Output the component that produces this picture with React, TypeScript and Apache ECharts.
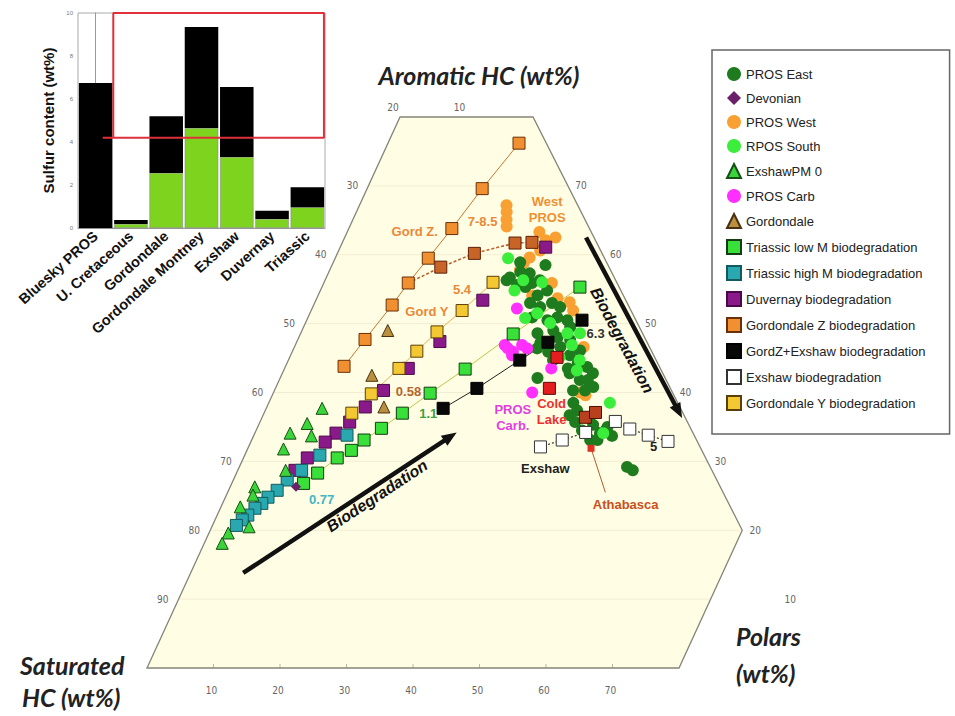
import React, { useEffect, useRef } from "react";
import * as echarts from "echarts";

// ---------------- Inset bar chart (sulfur content) ----------------
const sulfurCategories = ["Bluesky PROS", "U. Cretaceous", "Gordondale", "Gordondale Montney", "Exshaw", "Duvernay", "Triassic"];
const sulfurGreen = [0, 0.19, 2.56, 4.65, 3.3, 0.42, 0.97];
const sulfurBlack = [6.74, 0.18, 2.64, 4.7, 3.26, 0.38, 0.93];
const sulfurTicks = [0, 2, 4, 6, 8, 10];
const highSulfurThreshold = 4.2;

// ---------------- Ternary data: [Polars wt%, Aromatic HC wt%] (Saturated = 100 - both) ----------------
const prosEast = [
  [27.6, 56.7], [28.8, 57.5], [30.3, 57.3], [31.3, 55.9], [30.6, 55.3], [32.3, 56.3], [33.0, 54.1], [34.1, 54.8],
  [32.4, 53.0], [34.2, 52.4], [35.7, 53.0], [37.2, 52.4], [33.7, 50.9], [36.2, 50.5], [37.5, 50.9], [39.2, 50.5],
  [40.1, 49.5], [35.6, 48.6], [36.7, 47.2], [38.9, 48.0], [41.0, 47.6], [43.2, 46.1], [42.0, 45.4], [43.7, 44.3],
  [42.6, 43.5], [45.4, 43.7], [46.7, 42.8], [46.4, 41.8], [45.2, 41.8], [43.2, 42.8], [47.7, 40.8], [46.7, 40.3],
  [44.9, 40.3], [38.7, 42.1], [45.8, 38.5], [46.9, 37.4], [46.1, 36.7], [52.6, 35.0], [51.9, 34.1], [50.3, 35.3],
  [50.9, 33.1], [52.0, 33.1], [58.3, 29.2], [59.4, 28.7], [27.3, 56.3], [29.2, 55.6], [37.8, 49.0], [40.0, 46.6],
  [39.8, 44.7], [47.4, 35.7], [49.0, 34.5], [53.9, 33.7], [28.1, 58.9], [32.1, 58.5], [38.5, 45.9], [36.6, 46.4],
];
const rposSouth = [
  [26.0, 59.5], [29.2, 54.8], [32.8, 56.0], [34.2, 51.5], [32.7, 50.8], [36.8, 50.1], [40.1, 48.6], [41.6, 46.9],
  [42.0, 48.6], [44.1, 43.2], [51.3, 38.5], [29.8, 56.3], [40.6, 45.1], [52.4, 34.1], [43.8, 44.7],
];
const prosWest = [
  [22.1, 67.2], [22.6, 66.2], [23.1, 65.1], [23.6, 64.1], [28.9, 63.3], [31.7, 62.5], [30.4, 62.1], [29.2, 59.6],
  [28.7, 58.8], [32.2, 54.1], [34.3, 55.9], [36.2, 53.7], [38.3, 53.1], [39.4, 51.9], [43.5, 46.6], [46.1, 40.0],
  [47.1, 39.6], [28.6, 57.8], [30.3, 60.6],
];
const prosCarb = [
  [30.8, 52.2], [32.2, 46.4], [33.2, 45.9], [34.1, 46.9], [35.1, 46.4], [33.3, 45.4], [31.5, 46.9], [40.1, 43.5], [38.9, 40.0],
];
const devonian = [[9.9, 26.3]];
const exshawPM0 = [
  [8.4, 37.7], [7.2, 35.5], [5.3, 34.1], [8.7, 33.7], [5.4, 31.8], [7.2, 28.7], [3.7, 26.3], [4.0, 25.1],
  [2.9, 23.4], [5.6, 20.5], [2.9, 19.6], [2.7, 18.1],
];
const gordondale = [[12.9, 49.0], [13.6, 42.5], [17.6, 37.9]];
const triassicLowM = [
  [38.8, 55.3], [32.0, 48.5], [27.2, 43.4], [23.6, 39.9], [20.8, 37.0], [18.7, 34.8], [16.9, 33.1], [15.7, 31.6],
  [14.1, 30.5], [12.2, 28.3], [10.8, 26.8],
];
const triassicHighM = [
  [14.0, 33.8], [11.3, 30.9], [9.6, 28.7], [8.1, 27.3], [7.3, 25.8], [6.4, 24.8], [5.9, 23.9], [5.2, 23.2],
  [4.6, 22.2], [4.1, 21.5], [3.6, 20.7],
];
const duvernay = [
  [30.9, 61.1], [25.1, 53.4], [21.5, 47.4], [18.6, 43.5], [16.4, 40.3], [14.8, 37.9], [13.5, 35.7], [12.2, 34.1],
  [11.2, 32.8], [9.6, 30.5], [8.6, 28.7],
];
const gordZ = [[19.7, 76.2], [17.3, 69.6], [15.5, 63.8], [14.0, 59.5], [12.7, 55.9], [11.8, 52.7], [10.1, 47.7], [8.8, 43.8]];
const gordZBranch = [[12.7, 55.9], [16.5, 58.2], [20.6, 60.2], [26.0, 61.7], [28.5, 61.8]];
const gordZExshaw = [[41.4, 50.5], [37.8, 47.3], [34.8, 44.7], [30.3, 40.6], [26.6, 37.7]];
const exshawBio = [[43.9, 32.1], [46.7, 33.1], [49.7, 34.2], [53.4, 35.8], [56.1, 34.7], [59.3, 33.8], [62.7, 32.9]];
const gordY = [[25.4, 56.0], [22.7, 51.9], [20.4, 48.8], [18.7, 46.0], [17.2, 43.5], [14.8, 39.8], [13.2, 37.0]];
const coldLake = [[40.2, 45.1], [41.2, 40.6]];
const athabasca = [[48.6, 36.4], [49.8, 37.1]];
const athabascaMarker = [[51.6, 31.9]];
const athabascaLeader = [[51.6, 31.9], [56.8, 25.5]];

// ternary ticks
const satLeftTicks = [90, 80, 70, 60, 50, 40, 30];
const satTopTicks = [20, 10];
const aromTicks = [70, 60, 50, 40, 30, 20, 10];
const polTicks = [10, 20, 30, 40, 50, 60, 70];
const aromGrid = [10, 20, 30, 40, 50, 60, 70];
const frameVertices = [[0, 0], [0, 80], [20, 80], [80, 20], [80, 0]];

const annotations = [
  { text: "Gord Z.", pos: [10.1, 63.4], color: "#e8893a" },
  { text: "7-8.5", pos: [19.6, 64.9], color: "#e8893a" },
  { text: "West\nPROS", pos: [28.5, 66.6], color: "#ee9133" },
  { text: "5.4", pos: [21.2, 55.0], color: "#e8893a" },
  { text: "Gord Y", pos: [17.5, 51.7], color: "#e8893a" },
  { text: "0.58", pos: [20.2, 40.2], color: "#b5652e" },
  { text: "1.1", pos: [24.7, 37.0], color: "#3f9f3f" },
  { text: "0.77", pos: [14.6, 24.5], color: "#45b5c5" },
  { text: "6.3", pos: [44.4, 48.5], color: "#333333" },
  { text: "PROS\nCarb.", pos: [37.7, 36.4], color: "#e040e0" },
  { text: "Cold\nLake", pos: [43.1, 37.3], color: "#ec3030" },
  { text: "Exshaw", pos: [46.1, 29.0], color: "#222222" },
  { text: "5", pos: [60.9, 32.1], color: "#222222" },
  { text: "Athabasca", pos: [60.7, 23.7], color: "#c8501e" },
];
const arrows = [
  { from: [7.9, 13.8], to: [30.3, 34.2], label: [22.7, 25.0] },
  { from: [36.3, 62.5], to: [63.2, 36.3], label: [48.8, 47.6] },
];

const K = 0.4756;
const tx = (p: number, a: number): number[] => [p + K * a, a];
const toXY = (arr: number[][]) => arr.map(([p, a]) => tx(p, a));

const SANS = "'Liberation Sans', Arial, sans-serif";
const NARROW = "'Liberation Sans Narrow', 'DejaVu Sans Condensed', 'Liberation Sans', sans-serif";

function scatter(name: string, data: number[][], symbol: string, size: number, color: string, border?: string, z = 5) {
  return {
    type: "scatter", name, xAxisIndex: 0, yAxisIndex: 0, data: toXY(data), symbol, symbolSize: size, z,
    itemStyle: { color, borderColor: border || color, borderWidth: border ? 1 : 0, opacity: 1 },
    emphasis: { disabled: true }, silent: true,
  };
}
function line(data: number[][], color: string, width: number, type: any = "solid") {
  return {
    type: "line", xAxisIndex: 0, yAxisIndex: 0, data: toXY(data), symbol: "none", silent: true, z: 3,
    lineStyle: { color, width, type }, emphasis: { disabled: true },
  };
}

export default function App() {
  const ref = useRef<HTMLDivElement>(null);
  useEffect(() => {
    if (!ref.current) return;
    const chart = echarts.init(ref.current, undefined, { renderer: "svg" });

    const frameSeries = {
      type: "custom", xAxisIndex: 0, yAxisIndex: 0, data: [[0, 0]], silent: true, z: 1,
      renderItem: (_p: any, api: any) => {
        const pts = frameVertices.map(([p, a]) => api.coord(tx(p, a)));
        const children: any[] = [
          { type: "polygon", shape: { points: pts }, style: { fill: "#fffde3", stroke: "none" } },
        ];
        aromGrid.forEach((a) => {
          const l = api.coord(tx(0, a));
          const r = api.coord(tx(a <= 20 ? 80 : 100 - a, a));
          children.push({ type: "line", shape: { x1: l[0], y1: l[1], x2: r[0], y2: r[1] }, style: { stroke: "#f1edd2", lineWidth: 1 } });
        });
        polTicks.forEach((p) => {
          const c = api.coord(tx(p, 0));
          children.push({ type: "line", shape: { x1: c[0], y1: c[1] - 4, x2: c[0], y2: c[1] }, style: { stroke: "#bdb9a0", lineWidth: 1 } });
        });
        children.push({ type: "polygon", shape: { points: pts }, style: { fill: "none", stroke: "#85857a", lineWidth: 1.3 } });
        const txt = (text: string, x: number, y: number) => ({
          type: "text", x, y,
          style: { text, fill: "#666", fontSize: 10, fontFamily: NARROW, align: "center", verticalAlign: "middle", textAlign: "center", textVerticalAlign: "middle" },
        });
        satLeftTicks.forEach((s) => { const c = api.coord(tx(0, 100 - s)); children.push(txt(String(s), c[0] - 16, c[1])); });
        satTopTicks.forEach((s) => { const c = api.coord(tx(20 - s, 80)); children.push(txt(String(s), c[0] - 7, c[1] - 10)); });
        aromTicks.forEach((a) => { const c = api.coord(tx(100 - a, a)); children.push(txt(String(a), c[0] + 13, c[1])); });
        polTicks.forEach((p) => { const c = api.coord(tx(p, 0)); children.push(txt(String(p), c[0] - 2, c[1] + 22)); });
        return { type: "group", children };
      },
    };

    const annotationSeries = {
      type: "custom", xAxisIndex: 0, yAxisIndex: 0, data: [[0, 0]], silent: true, z: 20,
      renderItem: (_p: any, api: any) => {
        const children: any[] = annotations.map((an) => {
          const c = api.coord(tx(an.pos[0], an.pos[1]));
          return {
            type: "text", x: c[0], y: c[1],
            style: { text: an.text, fill: an.color, fontSize: 13, fontWeight: "bold", fontFamily: SANS, lineHeight: 16, align: "center", verticalAlign: "middle", textAlign: "center", textVerticalAlign: "middle" },
          };
        });
        arrows.forEach((ar) => {
          const c1 = api.coord(tx(ar.from[0], ar.from[1]));
          const c2 = api.coord(tx(ar.to[0], ar.to[1]));
          const ang = Math.atan2(c2[1] - c1[1], c2[0] - c1[0]);
          const ux = Math.cos(ang), uy = Math.sin(ang);
          const hl = 15, hw = 6;
          const bx = c2[0] - ux * hl, by = c2[1] - uy * hl;
          children.push({ type: "line", shape: { x1: c1[0], y1: c1[1], x2: bx + ux * 2, y2: by + uy * 2 }, style: { stroke: "#111", lineWidth: 4.5 } });
          children.push({ type: "polygon", shape: { points: [[c2[0], c2[1]], [bx - uy * hw, by + ux * hw], [bx + uy * hw, by - ux * hw]] }, style: { fill: "#111" } });
          const lc = api.coord(tx(ar.label[0], ar.label[1]));
          children.push({
            type: "text", x: lc[0], y: lc[1], rotation: -ang,
            style: { text: "Biodegradation", fill: "#111", fontSize: 16, fontWeight: "bold", fontStyle: "italic", fontFamily: SANS, align: "center", verticalAlign: "middle", textAlign: "center", textVerticalAlign: "middle" },
          });
        });
        return { type: "group", children };
      },
    };

    const legendNames = [
      ["PROS East", "circle"], ["Devonian", "diamond"], ["PROS West", "circle"], ["RPOS South", "circle"],
      ["ExshawPM 0", "triangle"], ["PROS Carb", "circle"], ["Gordondale", "triangle"],
      ["Triassic low M biodegradation", "rect"], ["Triassic high M biodegradation", "rect"],
      ["Duvernay biodegradation", "rect"], ["Gordondale Z biodegradation", "rect"],
      ["GordZ+Exshaw biodegradation", "rect"], ["Exshaw biodegradation", "rect"], ["Gordondale Y biodegradation", "rect"],
    ];

    const titleStyle = { fill: "#222", fontSize: 25, fontWeight: "bold", fontStyle: "italic", fontFamily: "Lato, 'Open Sans', sans-serif" };

    const option: any = {
      animation: false,
      backgroundColor: "#ffffff",
      grid: [
        { left: 147, top: 117, width: 665, height: 551 },
        { left: 78, top: 13, width: 247, height: 215, show: true, borderColor: "#aaaaaa", borderWidth: 1 },
      ],
      xAxis: [
        { gridIndex: 0, type: "value", min: 0, max: 100, show: false },
        {
          gridIndex: 1, type: "category", data: sulfurCategories,
          axisTick: { show: false }, axisLine: { lineStyle: { color: "#999" } },
          axisLabel: { interval: 0, rotate: 42, fontWeight: "bold", fontSize: 14.5, color: "#111", margin: 6, fontFamily: SANS },
        },
        { gridIndex: 1, type: "value", min: -0.5, max: 6.5, show: false },
      ],
      yAxis: [
        { gridIndex: 0, type: "value", min: 0, max: 80, show: false },
        {
          gridIndex: 1, type: "value", min: sulfurTicks[0], max: sulfurTicks[sulfurTicks.length - 1], interval: 2,
          splitLine: { show: false }, axisLine: { show: true, lineStyle: { color: "#999" } }, axisTick: { show: false },
          axisLabel: { fontSize: 6, color: "#777", margin: 5 },
          name: "Sulfur content (wt%)", nameLocation: "middle", nameGap: 22,
          nameTextStyle: { fontWeight: "bold", fontSize: 15, color: "#111", fontFamily: SANS },
        },
      ],
      legend: {
        orient: "vertical", left: 712, top: 50, padding: [17, 24, 23, 14], itemGap: 10, itemWidth: 14, itemHeight: 14,
        borderColor: "#666", borderWidth: 1.5, backgroundColor: "#fff", selectedMode: false,
        textStyle: { fontSize: 13, color: "#222", fontFamily: SANS },
        data: legendNames.map(([name, icon]) => ({ name, icon })),
      },
      graphic: [
        { type: "text", x: 479, y: 75, style: { ...titleStyle, text: "Aromatic HC (wt%)", align: "center", verticalAlign: "middle", textAlign: "center", textVerticalAlign: "middle" } },
        { type: "text", x: 20, y: 665, style: { ...titleStyle, text: "Saturated", align: "left", verticalAlign: "middle", textAlign: "left", textVerticalAlign: "middle" } },
        { type: "text", x: 22, y: 697, style: { ...titleStyle, text: "HC (wt%)", align: "left", verticalAlign: "middle", textAlign: "left", textVerticalAlign: "middle" } },
        { type: "text", x: 736, y: 636, style: { ...titleStyle, text: "Polars", align: "left", verticalAlign: "middle", textAlign: "left", textVerticalAlign: "middle" } },
        { type: "text", x: 736, y: 673, style: { ...titleStyle, text: "(wt%)", align: "left", verticalAlign: "middle", textAlign: "left", textVerticalAlign: "middle" } },
      ],
      series: [
        frameSeries,
        line(gordZ, "#c8782e", 1),
        line(gordZBranch, "#c0602a", 1.6, [3, 2]),
        line(gordY, "#e0b450", 1),
        line(triassicLowM, "#b8cc44", 1),
        line(gordZExshaw, "#222", 1),
        line(exshawBio, "#333", 1.2, [2, 2]),
        line(athabascaLeader, "#b85a30", 1),
        scatter("PROS West", prosWest, "circle", 12, "#f9a032", undefined, 4),
        scatter("PROS East", prosEast, "circle", 12, "#1e7b1e", undefined, 5),
        scatter("RPOS South", rposSouth, "circle", 12, "#3cee3c", undefined, 5),
        scatter("PROS Carb", prosCarb, "circle", 12, "#ff30ff", undefined, 5),
        scatter("Duvernay biodegradation", duvernay, "rect", 12, "#8a1a8a", "#4a0a4a", 6),
        scatter("Gordondale Y biodegradation", gordY, "rect", 12, "#f4c832", "#5a4008", 6),
        scatter("Gordondale Z biodegradation", gordZ, "rect", 12, "#f09030", "#6a3008", 6),
        scatter("Gord Z branch", gordZBranch.slice(1), "rect", 12, "#c86428", "#5a2008", 6),
        scatter("Triassic low M biodegradation", triassicLowM, "rect", 12, "#3ae03a", "#143c14", 6),
        scatter("Triassic high M biodegradation", triassicHighM, "rect", 12, "#2aa8b0", "#135a5e", 6),
        scatter("GordZ+Exshaw biodegradation", gordZExshaw, "rect", 12, "#080808", "#000000", 6),
        scatter("Exshaw biodegradation", exshawBio, "rect", 12, "#ffffff", "#333333", 6),
        scatter("Cold Lake", coldLake, "rect", 12, "#e41e1e", "#5a0a0a", 7),
        scatter("Athabasca", athabasca, "rect", 12, "#b8401c", "#4a1000", 7),
        scatter("Athabasca marker", athabascaMarker, "rect", 7, "#e03020", undefined, 7),
        scatter("ExshawPM 0", exshawPM0, "triangle", 12, "#3bd43b", "#145014", 7),
        scatter("Gordondale", gordondale, "triangle", 12, "#b89040", "#4a3010", 7),
        scatter("Devonian", devonian, "diamond", 10, "#6b1f6b", undefined, 7),
        annotationSeries,
        {
          type: "bar", name: "green", xAxisIndex: 1, yAxisIndex: 1, stack: "s", data: sulfurGreen, barCategoryGap: "5%",
          itemStyle: { color: "#7ed31e", borderColor: "#8a8a8a", borderWidth: 0.6 }, silent: true,
        },
        {
          type: "bar", name: "black", xAxisIndex: 1, yAxisIndex: 1, stack: "s", data: sulfurBlack, barCategoryGap: "5%",
          itemStyle: { color: "#000000" }, silent: true,
        },
        {
          type: "line", xAxisIndex: 2, yAxisIndex: 1, symbol: "none", silent: true, z: 10,
          data: [[0.2, highSulfurThreshold], [6.47, highSulfurThreshold], [6.47, 10], [0.5, 10], [0.5, highSulfurThreshold]],
          lineStyle: { color: "#e0303c", width: 2 },
        },
      ],
    };
    chart.setOption(option);
    return () => chart.dispose();
  }, []);
  return <div ref={ref} style={{ position: "fixed", left: 0, top: 0, width: 955, height: 716, background: "#fff" }} />;
}
